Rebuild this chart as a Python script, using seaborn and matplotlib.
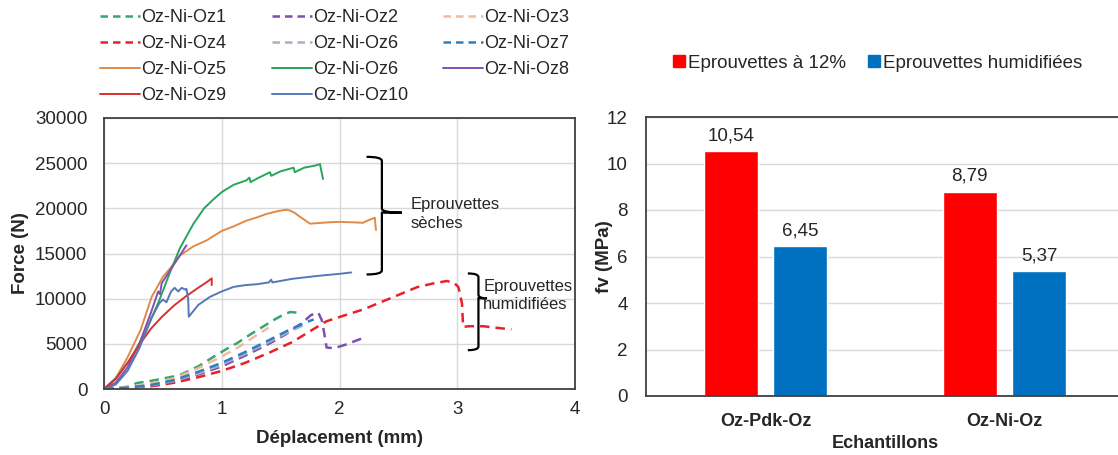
import matplotlib
matplotlib.use('Agg')
import matplotlib.pyplot as plt
from matplotlib.lines import Line2D
from matplotlib.path import Path
from matplotlib.patches import PathPatch
import seaborn as sns
import pandas as pd

# ---- load/displacement curves ----
oz1_x = [0, 0.1, 0.2, 0.28, 0.4, 0.5, 0.645, 0.8, 0.93, 1.05, 1.13, 1.25, 1.35, 1.45, 1.52, 1.58, 1.65]
oz1_y = [0, 80, 250, 660, 900, 1150, 1540, 2500, 3560, 4500, 5070, 6100, 6900, 7700, 8200, 8520, 8450]
oz2_x = [0, 0.2, 0.4, 0.6, 0.8, 1.0, 1.2, 1.4, 1.55, 1.68, 1.76, 1.82, 1.85, 1.87, 1.89, 1.95, 2.05, 2.19]
oz2_y = [0, 100, 350, 800, 1600, 2500, 3700, 5000, 6100, 7300, 8200, 8450, 7600, 6200, 4600, 4500, 4900, 5600]
oz3_x = [0, 0.2, 0.4, 0.6, 0.8, 1.0, 1.15, 1.3, 1.4]
oz3_y = [0, 200, 600, 1200, 2300, 3600, 4700, 6000, 6800]
oz4_x = [0, 0.2, 0.4, 0.6, 0.8, 1.0, 1.2, 1.4, 1.6, 1.75, 1.89, 2.0, 2.2, 2.43, 2.66, 2.8, 2.91, 2.97,
         3.01, 3.04, 3.05, 3.1, 3.22, 3.35, 3.46]
oz4_y = [0, 80, 300, 700, 1300, 2000, 2900, 4000, 5200, 6400, 7500, 7970, 8800, 10030, 11280, 11700, 11950, 11800,
         11280, 9480, 6870, 6950, 6950, 6750, 6600]
oz6d_x = [0, 0.2, 0.4, 0.6, 0.8, 1.0, 1.2, 1.4, 1.55, 1.7]
oz6d_y = [0, 120, 400, 900, 1700, 2700, 3900, 5200, 6200, 7100]
oz7_x = [0, 0.2, 0.4, 0.6, 0.8, 1.0, 1.2, 1.4, 1.55, 1.7, 1.78]
oz7_y = [0, 150, 450, 1000, 1900, 2900, 4100, 5400, 6400, 7300, 7700]
oz5_x = [0, 0.1, 0.2, 0.31, 0.405, 0.5, 0.57, 0.645, 0.76, 0.87, 1.0, 1.1, 1.21, 1.3, 1.38, 1.48, 1.55,
         1.58, 1.62, 1.66, 1.75, 1.85, 1.92, 2.0, 2.115, 2.2, 2.23, 2.3, 2.305, 2.31]
oz5_y = [0, 1200, 3500, 6500, 10200, 12400, 13500, 14780, 15800, 16440, 17500, 18000, 18640, 19000, 19380,
         19700, 19850, 19750, 19500, 19100, 18300, 18400, 18460, 18500, 18450, 18400, 18600, 18960, 18200, 17600]
oz6_x = [0, 0.1, 0.22, 0.36, 0.475, 0.56, 0.645, 0.76, 0.85, 0.93, 1.0, 1.1, 1.21, 1.235, 1.245, 1.3, 1.41,
         1.42, 1.5, 1.61, 1.62, 1.7, 1.8, 1.835, 1.84, 1.86]
oz6_y = [0, 1200, 3200, 6500, 10000, 12900, 15600, 18300, 20000, 21000, 21800, 22600, 23100, 23400, 22900,
         23300, 24000, 23600, 24100, 24500, 24000, 24500, 24750, 24900, 24500, 23250]
oz8_x = [0, 0.1, 0.2, 0.3, 0.4, 0.46, 0.475, 0.49, 0.55, 0.62, 0.7]
oz8_y = [0, 700, 2400, 5000, 8500, 10800, 10500, 11700, 12900, 14300, 15900]
oz9_x = [0, 0.1, 0.2, 0.3, 0.4, 0.5, 0.6, 0.7, 0.8, 0.88, 0.915, 0.915]
oz9_y = [0, 1100, 2900, 4900, 6700, 8100, 9300, 10300, 11200, 11900, 12250, 11500]
oz10_x = [0, 0.1, 0.2, 0.3, 0.4, 0.47, 0.5, 0.53, 0.57, 0.6, 0.63, 0.66, 0.69, 0.7, 0.715, 0.72, 0.8, 0.9,
          1.0, 1.1, 1.2, 1.3, 1.4, 1.42, 1.43, 1.6, 1.8, 2.0, 2.1]
oz10_y = [0, 500, 2000, 4500, 7800, 9500, 9900, 9600, 10800, 11200, 10800, 11200, 11000, 11100, 10000, 8000,
          9300, 10200, 10800, 11300, 11500, 11600, 11800, 12100, 11800, 12200, 12500, 12750, 12900]

# ---- bar chart ----
echantillons = ['Oz-Pdk-Oz', 'Oz-Ni-Oz']
fv_sec = [10.54, 8.79]
fv_hum = [6.45, 5.37]
bar_series = ['Eprouvettes à 12%', 'Eprouvettes humidifiées']

# name, x, y, colour, dashed
curves = [
    ('Oz-Ni-Oz1', oz1_x, oz1_y, '#35a66c', True),
    ('Oz-Ni-Oz2', oz2_x, oz2_y, '#7b4fb0', True),
    ('Oz-Ni-Oz3', oz3_x, oz3_y, '#f2b8a2', True),
    ('Oz-Ni-Oz4', oz4_x, oz4_y, '#e8202a', True),
    ('Oz-Ni-Oz6', oz6d_x, oz6d_y, '#a6b2c4', True),
    ('Oz-Ni-Oz7', oz7_x, oz7_y, '#2f7ec0', True),
    ('Oz-Ni-Oz5', oz5_x, oz5_y, '#e08a4a', False),
    ('Oz-Ni-Oz6', oz6_x, oz6_y, '#26a65b', False),
    ('Oz-Ni-Oz8', oz8_x, oz8_y, '#8150b5', False),
    ('Oz-Ni-Oz9', oz9_x, oz9_y, '#dc2f2f', False),
    ('Oz-Ni-Oz10', oz10_x, oz10_y, '#5677b8', False),
]

sns.set_theme(style='white')
plt.rcParams['font.family'] = ['Liberation Sans', 'DejaVu Sans']
plt.rcParams['text.color'] = '#262626'
plt.rcParams['axes.labelcolor'] = '#262626'

W, H = 1118, 455
fig = plt.figure(figsize=(W / 100, H / 100), dpi=100)
ax1 = fig.add_axes([104 / W, 1 - 389 / H, (575 - 104) / W, (389 - 118) / H])
ax2 = fig.add_axes([646 / W, 1 - 396 / H, (1124 - 646) / W, (396 - 117) / H])

DASH = (0, (3.8, 2.4))
handles = []
for name, xs, ys, col, dashed in curves:
    df = pd.DataFrame({'x': xs, 'y': ys})
    ls = DASH if dashed else '-'
    lw = 1.8 if dashed else 1.4
    sns.lineplot(data=df, x='x', y='y', sort=False, estimator=None, color=col,
                 linestyle=ls, linewidth=lw, ax=ax1)
    handles.append(Line2D([], [], color=col, linestyle=(0, (3, 2)) if dashed else '-',
                          linewidth=lw, label=name))

ax1.set_xlim(0, 4)
ax1.set_ylim(0, 30000)
ax1.set_xticks(range(0, 5))
ax1.set_yticks(range(0, 30001, 5000))
ax1.grid(True, color='#d9d9d9', linewidth=1)
ax1.set_axisbelow(True)
for s in ax1.spines.values():
    s.set_visible(True)
    s.set_color('#404040')
    s.set_linewidth(1.3)
ax1.tick_params(axis='x', length=0, pad=9, labelsize=13.5, colors='#262626')
ax1.tick_params(axis='y', length=0, pad=12, labelsize=13.5, colors='#262626')
ax1.set_xlabel('Déplacement (mm)', fontsize=13.5, fontweight='bold', labelpad=8)
ax1.set_ylabel('Force (N)', fontsize=13.5, fontweight='bold', labelpad=4)


def brace(ax, xl, xv, xt, ytop, ybot, ymid, ry=450):
    # curly bracket drawn as a path in data coordinates
    verts = [(xl, ytop), (xv, ytop), (xv, ytop - ry),
             (xv, ymid + ry), (xv, ymid), (xt, ymid),
             (xt, ymid), (xv, ymid),
             (xv, ybot + ry), (xv, ybot), (xl, ybot)]
    codes = [Path.MOVETO, Path.CURVE3, Path.CURVE3,
             Path.LINETO, Path.CURVE3, Path.CURVE3,
             Path.MOVETO, Path.LINETO,
             Path.LINETO, Path.CURVE3, Path.CURVE3]
    ax.add_patch(PathPatch(Path(verts, codes), facecolor='none', edgecolor='black',
                           linewidth=1.6, clip_on=False))


brace(ax1, 2.23, 2.36, 2.53, 25700, 12680, 19520)
ax1.text(2.60, 19400, 'Eprouvettes\nsèches', fontsize=12, ha='left', va='center',
         linespacing=1.3)
brace(ax1, 3.09, 3.18, 3.25, 12790, 4300, 10040, ry=400)
ax1.text(3.22, 10350, 'Eprouvettes\nhumidifiées', fontsize=12, ha='left', va='center',
         linespacing=1.3, clip_on=False)

# legend, three columns at fixed positions
legend_cols = [[0, 3, 6, 9], [1, 4, 7, 10], [2, 5, 8]]
col_x = [100, 272, 443]
for idx, cx in zip(legend_cols, col_x):
    fig.legend(handles=[handles[i] for i in idx], loc='upper left',
               bbox_to_anchor=(cx / W, 1 - 9 / H), frameon=False, fontsize=13,
               handlelength=2.2, handletextpad=0.1, labelspacing=0.5,
               borderpad=0, borderaxespad=0)

# ---- right: bar chart ----
bars = pd.DataFrame({
    'Echantillons': echantillons * 2,
    'fv': fv_sec + fv_hum,
    'serie': [bar_series[0]] * 2 + [bar_series[1]] * 2,
})
sns.barplot(data=bars, x='Echantillons', y='fv', hue='serie', hue_order=bar_series,
            order=echantillons, palette=['#ff0000', '#0070c0'], width=0.58, gap=0.23,
            saturation=1, ax=ax2, legend=False)
for cont in ax2.containers:
    ax2.bar_label(cont, labels=[f'{v:.2f}'.replace('.', ',') for v in cont.datavalues],
                  padding=5, fontsize=13.5, color='#262626')
ax2.set_xlim(-0.5, 1.5)
ax2.set_ylim(0, 12)
ax2.set_yticks(range(0, 13, 2))
ax2.yaxis.grid(True, color='#d9d9d9', linewidth=1)
ax2.set_axisbelow(True)
for s in ax2.spines.values():
    s.set_visible(True)
    s.set_color('#404040')
    s.set_linewidth(1.3)
ax2.tick_params(axis='x', length=0, pad=12, labelsize=13, colors='#262626')
ax2.tick_params(axis='y', length=0, pad=13, labelsize=13.5, colors='#262626')
for lab in ax2.get_xticklabels():
    lab.set_fontweight('bold')
ax2.set_xlabel('Echantillons', fontsize=13, fontweight='bold', labelpad=4)
ax2.set_ylabel('fv (MPa)', fontsize=13.5, fontweight='bold', labelpad=-4)

sq = [Line2D([], [], marker='s', linestyle='none', markersize=8, color=c, label=l)
      for c, l in zip(['#ff0000', '#0070c0'], bar_series)]
fig.legend(handles=sq, loc='center left', bbox_to_anchor=(671 / W, 1 - 63 / H), ncol=2,
           frameon=False, fontsize=13.5, handlelength=0.8, handletextpad=0.1,
           columnspacing=1.1, borderpad=0, borderaxespad=0)

fig.savefig('out.png', dpi=100)
